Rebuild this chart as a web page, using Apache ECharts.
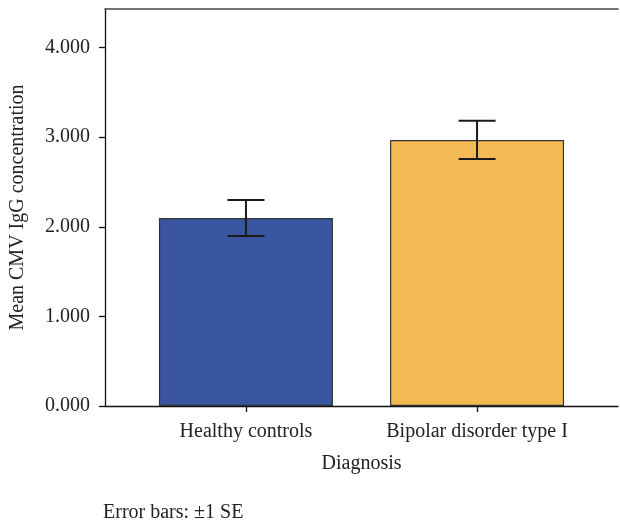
<!DOCTYPE html>
<html>
<head>
<meta charset="utf-8">
<script src="https://cdn.jsdelivr.net/npm/echarts@6/dist/echarts.min.js"></script>
<style>
html,body{margin:0;padding:0;background:#fff;}
#chart{width:620px;height:524px;}
</style>
</head>
<body>
<div id="chart"></div>
<script>
const categories = ['Healthy controls', 'Bipolar disorder type I'];
const means = [2.097, 2.969];
const standardErrors = [0.201, 0.214];
const barColors = ['#3a56a0', '#f4bb55'];
const yTicks = [0, 1, 2, 3, 4];

const FONT = '"Liberation Serif", "DejaVu Serif", serif';
const chart = echarts.init(document.getElementById('chart'));

const barData = categories.map((c, i) => ({
  value: [i + 1, means[i]],
  itemStyle: { color: barColors[i] }
}));
const errData = categories.map((c, i) => [i + 1, means[i] - standardErrors[i], means[i] + standardErrors[i]]);

chart.setOption({
  animation: false,
  backgroundColor: '#fff',
  grid: { left: 103, right: 2, top: 9, bottom: 118 },
  xAxis: [
    {
      type: 'value',
      min: 0.39, max: 2.61,
      name: 'Diagnosis',
      nameLocation: 'middle',
      nameGap: 48,
      nameTextStyle: { fontFamily: FONT, fontSize: 20, color: '#222' },
      splitLine: { show: false },
      axisLine: { show: true, lineStyle: { color: '#111', width: 1.3 } },
      axisTick: { show: true, length: 6, customValues: [1, 2], lineStyle: { color: '#111', width: 1.3 } },
      axisLabel: {
        customValues: [1, 2],
        margin: 16,
        fontFamily: FONT, fontSize: 20, color: '#222',
        formatter: v => categories[Math.round(v) - 1] || ''
      }
    },
    {
      type: 'value',
      position: 'top',
      min: 0.39, max: 2.61,
      splitLine: { show: false },
      axisLine: { show: true, onZero: false, lineStyle: { color: '#444', width: 1.5 } },
      axisTick: { show: false },
      axisLabel: { show: false }
    }
  ],
  yAxis: {
    type: 'value',
    min: 0, max: 4.43,
    name: 'Mean CMV IgG concentration',
    nameLocation: 'middle',
    nameGap: 77,
    nameTextStyle: { fontFamily: FONT, fontSize: 20, color: '#222' },
    splitLine: { show: false },
    axisLine: { show: true, lineStyle: { color: '#111', width: 1.3 } },
    axisTick: { show: true, length: 6, customValues: yTicks, lineStyle: { color: '#111', width: 1.3 } },
    axisLabel: {
      customValues: yTicks,
      margin: 15,
      fontFamily: FONT, fontSize: 20, color: '#222',
      formatter: v => v.toFixed(3)
    }
  },
  series: [
    {
      type: 'bar',
      data: barData,
      barWidth: 174,
      itemStyle: { borderColor: '#333', borderWidth: 1.2 }
    },
    {
      type: 'custom',
      data: errData,
      z: 10,
      renderItem: function (params, api) {
        const x = api.value(0);
        const lo = api.coord([x, api.value(1)]);
        const hi = api.coord([x, api.value(2)]);
        const hw = 18.5;
        const style = { stroke: '#1a1a1a', lineWidth: 2 };
        return {
          type: 'group',
          children: [
            { type: 'line', shape: { x1: lo[0], y1: lo[1], x2: hi[0], y2: hi[1] }, style },
            { type: 'line', shape: { x1: lo[0] - hw, y1: lo[1], x2: lo[0] + hw, y2: lo[1] }, style },
            { type: 'line', shape: { x1: hi[0] - hw, y1: hi[1], x2: hi[0] + hw, y2: hi[1] }, style }
          ]
        };
      }
    }
  ],
  graphic: [
    {
      type: 'text',
      left: 103,
      top: 503,
      style: { text: 'Error bars: \u00b11 SE', font: '20px ' + FONT, fill: '#222' }
    }
  ]
});
</script>
</body>
</html>
